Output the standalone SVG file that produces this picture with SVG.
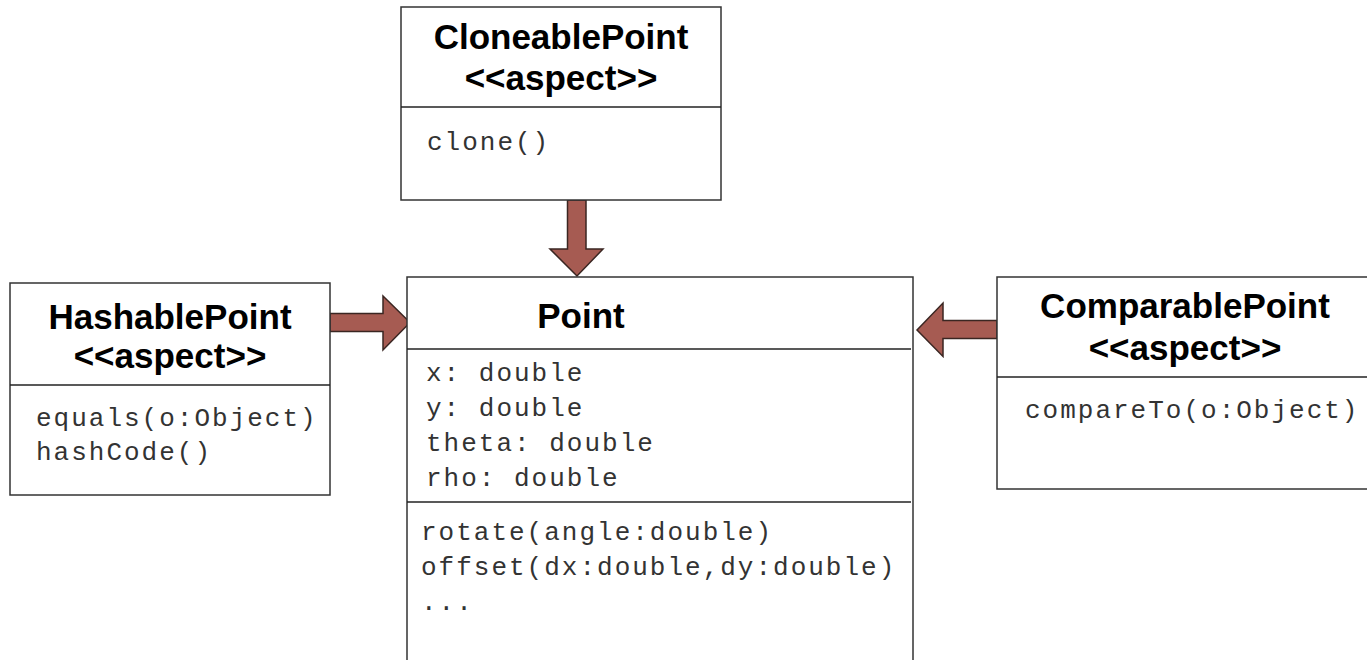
<svg xmlns="http://www.w3.org/2000/svg" width="1367" height="660" viewBox="0 0 1367 660">
<style>
.box{fill:#fff;stroke:#333;stroke-width:1.5}
.div{stroke:#222;stroke-width:1.5}
.title{font-family:"Liberation Sans",Arial,sans-serif;font-weight:bold;font-size:35px;fill:#000;text-anchor:middle}
.mono{font-family:"Liberation Mono","Courier New",monospace;font-size:26px;letter-spacing:2px;fill:#333}
.arrow{fill:#A65B52;stroke:#3a2622;stroke-width:1.5;stroke-linejoin:miter}
</style>
<rect width="1367" height="660" fill="#fff"/>
<g id="connectors">
<polygon class="arrow" points="567.5,200 586,200 586,249 603,249 577,276 550,249 567.5,249"/>
<polygon class="arrow" points="330,313.5 383,313.5 383,296 410,322.5 383,350 383,331.5 330,331.5"/>
<polygon class="arrow" points="997,320.5 943,320.5 943,303 917,330 943,356.5 943,338.5 997,338.5"/>
</g>
<g id="CloneablePoint">
<rect class="box" x="401" y="7" width="320" height="193"/>
<line class="div" x1="401" y1="107" x2="721" y2="107"/>
<text class="title" x="561" y="49">CloneablePoint</text>
<text class="title" x="561" y="90">&lt;&lt;aspect&gt;&gt;</text>
<text class="mono" x="427" y="150">clone()</text>
</g>
<g id="HashablePoint">
<rect class="box" x="10" y="283" width="320" height="212"/>
<line class="div" x1="10" y1="385" x2="330" y2="385"/>
<text class="title" x="170" y="329">HashablePoint</text>
<text class="title" x="170" y="368">&lt;&lt;aspect&gt;&gt;</text>
<text class="mono" x="36" y="426">equals(o:Object)</text>
<text class="mono" x="36" y="460">hashCode()</text>
</g>
<g id="Point">
<rect class="box" x="407" y="277" width="506" height="400"/>
<line class="div" x1="407" y1="349" x2="911" y2="349"/>
<line class="div" x1="407" y1="502" x2="911" y2="502"/>
<text class="title" x="581" y="328">Point</text>
<text class="mono" x="426" y="381">x: double</text>
<text class="mono" x="426" y="416">y: double</text>
<text class="mono" x="426" y="451">theta: double</text>
<text class="mono" x="426" y="486">rho: double</text>
<text class="mono" x="421" y="540">rotate(angle:double)</text>
<text class="mono" x="421" y="575">offset(dx:double,dy:double)</text>
<text class="mono" x="421" y="610">...</text>
</g>
<g id="ComparablePoint">
<rect class="box" x="997" y="277" width="380" height="212"/>
<line class="div" x1="997" y1="377" x2="1367" y2="377"/>
<text class="title" x="1185" y="318">ComparablePoint</text>
<text class="title" x="1185" y="360">&lt;&lt;aspect&gt;&gt;</text>
<text class="mono" x="1025" y="418">compareTo(o:Object)</text>
</g>
</svg>
